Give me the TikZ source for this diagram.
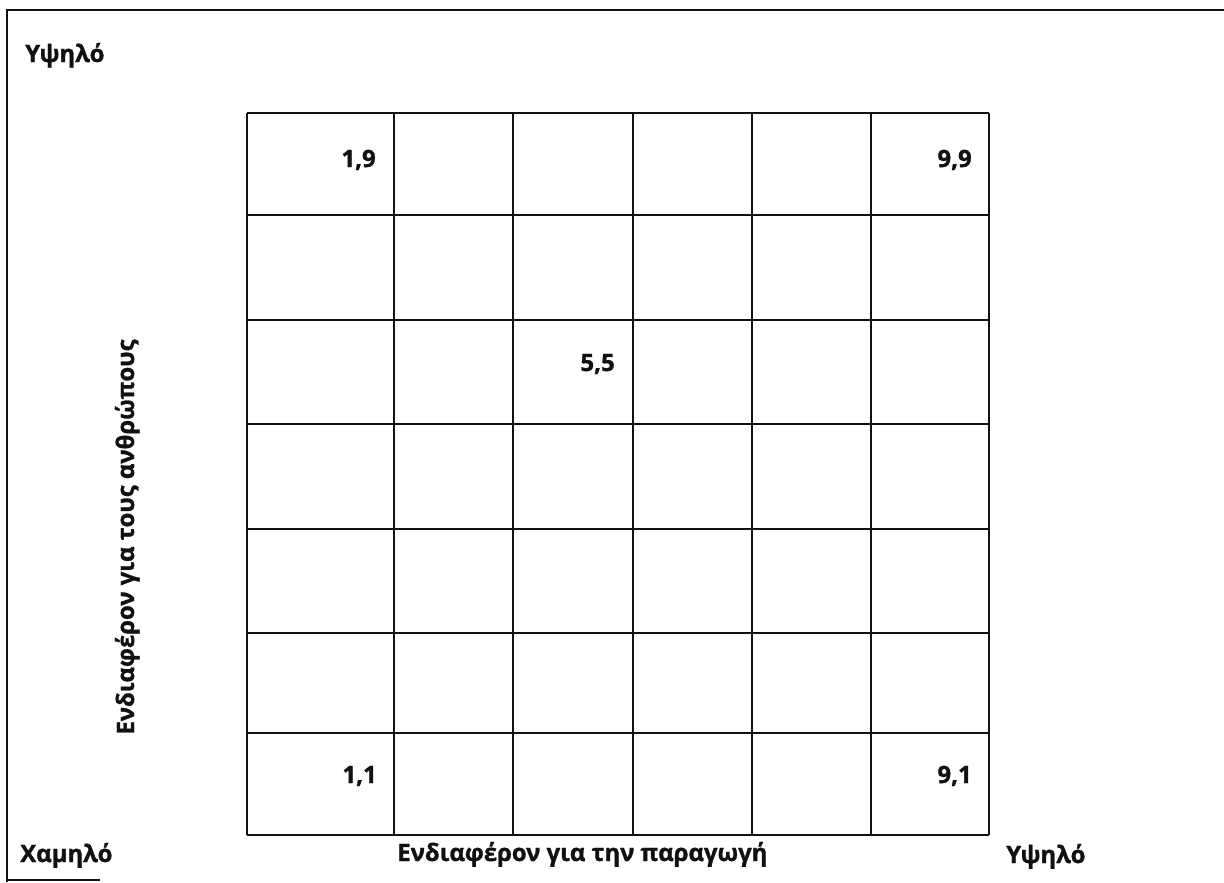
\documentclass[tikz,border=0pt]{standalone}
\usepackage{fontspec}
\setsansfont{Open Sans}[BoldFeatures={FakeBold=1.2}]
\usetikzlibrary{positioning}
\definecolor{ink}{HTML}{111111}
\tikzset{
  frame/.style ={draw=ink, line width=1.4pt},
  gridln/.style={draw=ink, line width=1.3pt},
  lbl/.style   ={font=\sffamily\bfseries\fontsize{17}{20}\selectfont,
                 text=ink, inner sep=0pt},
  num/.style   ={font=\sffamily\bfseries\fontsize{17}{20}\selectfont,
                 text=ink, inner sep=0pt, anchor=base east}
}

\begin{document}
\begin{tikzpicture}[x=0.025cm,y=-0.025cm]
\useasboundingbox (0,0) rectangle (1224,882);
% outer frame (only top and left survive)
\draw[frame] (1224,10) -- (7,10) -- (7,882);
\draw[frame] (7,880) -- (100,880);

% grid: 6 columns, 7 rows
\foreach \x in {247,394,513,633,752,871,989}
  \draw[gridln] (\x,113) -- (\x,835);
\foreach \y in {113,215,320,424,529,633,733,835}
  \draw[gridln] (247,\y) -- (989,\y);

\node[num] (n19) at (376,167) {1,9};
\node[num] (n99) at (972,167) {9,9};
\node[num] (n55) at (615,371) {5,5};
\node[num] (n11) at (377,783) {1,1};
\node[num] (n91) at (972,783) {9,1};

\node[lbl, anchor=base west] (hiY) at (25,62) {Υψηλό};
\node[lbl, anchor=base west] (loX) at (20,862) {Χαμηλό};
\node[lbl, anchor=base west] (xlab) at (397,861) {Ενδιαφέρον για την παραγωγή};
\node[lbl, anchor=base west] (hiX) at (1006,863) {Υψηλό};
\node[lbl, anchor=base, rotate=90] (ylab) at (134,537)
  {Ενδιαφέρον για τους ανθρώπους};
\end{tikzpicture}
\end{document}
